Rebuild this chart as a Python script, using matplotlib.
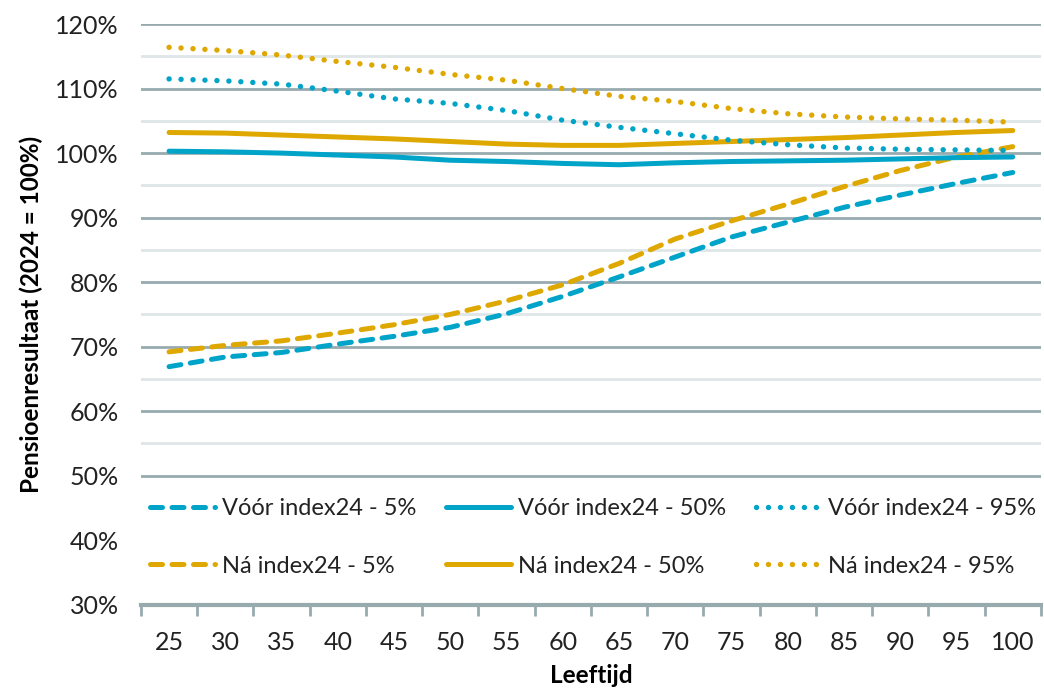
import matplotlib
matplotlib.use("Agg")
from matplotlib import pyplot as plt
from matplotlib.ticker import FixedLocator, FuncFormatter

# data
leeftijd = ['25', '30', '35', '40', '45', '50', '55', '60', '65', '70', '75', '80', '85', '90', '95', '100']
voor_5 = [66.9, 68.4, 69.1, 70.4, 71.6, 73.0, 75.1, 77.8, 80.8, 83.9, 87.0, 89.3, 91.6, 93.5, 95.3, 97.0]
voor_50 = [100.3, 100.2, 100.0, 99.7, 99.4, 98.9, 98.7, 98.4, 98.2, 98.5, 98.7, 98.8, 98.9, 99.1, 99.3, 99.4]
voor_95 = [111.5, 111.2, 110.7, 109.6, 108.4, 107.7, 106.6, 105.1, 104.0, 103.0, 102.0, 101.3, 100.8, 100.6, 100.5, 100.4]
na_5 = [69.2, 70.2, 70.9, 72.1, 73.4, 75.0, 77.1, 79.6, 82.9, 86.7, 89.5, 92.1, 94.8, 97.3, 99.4, 101.0]
na_50 = [103.2, 103.1, 102.8, 102.5, 102.2, 101.8, 101.4, 101.2, 101.2, 101.5, 101.8, 102.1, 102.4, 102.8, 103.2, 103.5]
na_95 = [116.4, 115.9, 115.2, 114.2, 113.3, 112.2, 111.3, 110.0, 108.8, 108.0, 106.9, 106.1, 105.6, 105.3, 105.1, 104.8]

blauw = '#00A4C9'
goud = '#DEA800'
grid_major = '#97ABAF'
grid_minor = '#DFE6E8'

plt.rcParams['font.family'] = ['Lato', 'DejaVu Sans']

fig = plt.figure(figsize=(10.44, 6.88), dpi=100)
ax = fig.add_axes([0.135, 0.121, 0.862, 0.844])

x = list(range(len(leeftijd)))
dash = dict(dashes=(2.4, 1.9), dash_capstyle='round')
dot = dict(dashes=(0.01, 2.2), dash_capstyle='round')

l1, = ax.plot(x, voor_5, color=blauw, lw=3.6, **dash, label='Vóór index24 - 5%')
l4, = ax.plot(x, na_5, color=goud, lw=3.6, **dash, label='Ná index24 - 5%')
l2, = ax.plot(x, voor_50, color=blauw, lw=3.6, solid_capstyle='round', label='Vóór index24 - 50%')
l5, = ax.plot(x, na_50, color=goud, lw=3.6, solid_capstyle='round', label='Ná index24 - 50%')
l3, = ax.plot(x, voor_95, color=blauw, lw=3.9, **dot, label='Vóór index24 - 95%')
l6, = ax.plot(x, na_95, color=goud, lw=3.9, **dot, label='Ná index24 - 95%')

ax.set_xlim(-0.5, len(leeftijd) - 0.5)
ax.set_ylim(30, 120)

# gridlines: 10% darker, 5% light
for v in range(35, 120, 10):
    ax.axhline(v, color=grid_minor, lw=2, zorder=0)
for v in range(40, 121, 10):
    ax.axhline(v, color=grid_major, lw=2, zorder=0.5)

ax.yaxis.set_major_locator(FixedLocator(range(30, 121, 10)))
ax.yaxis.set_major_formatter(FuncFormatter(lambda v, p: '%d%%' % v))
ax.set_xticks(x)
ax.set_xticklabels(leeftijd)
ax.set_xticks([i - 0.5 for i in range(len(leeftijd) + 1)], minor=True)
ax.tick_params(axis='x', which='major', length=0, pad=19, labelsize=18, colors='#222222')
ax.tick_params(axis='x', which='minor', length=8, width=2, color=grid_major)
ax.tick_params(axis='y', length=0, pad=16, labelsize=18, colors='#222222')

for s in ['top', 'right', 'left']:
    ax.spines[s].set_visible(False)
ax.spines['bottom'].set_color(grid_major)
ax.spines['bottom'].set_linewidth(3)

ax.set_xlabel('Leeftijd', fontsize=17.5, fontweight='bold', labelpad=7)
ax.set_ylabel('Pensioenresultaat (2024 = 100%)', fontsize=17.5, fontweight='bold', labelpad=9)

leg = ax.legend(handles=[l1, l4, l2, l5, l3, l6], ncol=3, loc='lower left',
                bbox_to_anchor=(0.0, 0.032),
                fontsize=17, frameon=True, facecolor='white', edgecolor='none',
                framealpha=1, fancybox=False, handlelength=2.75, handletextpad=0.3,
                labelspacing=1.55, columnspacing=1.25, borderaxespad=0, borderpad=0.4)
for t in leg.get_texts():
    t.set_color('#222222')

fig.savefig('out.png', dpi=100)
